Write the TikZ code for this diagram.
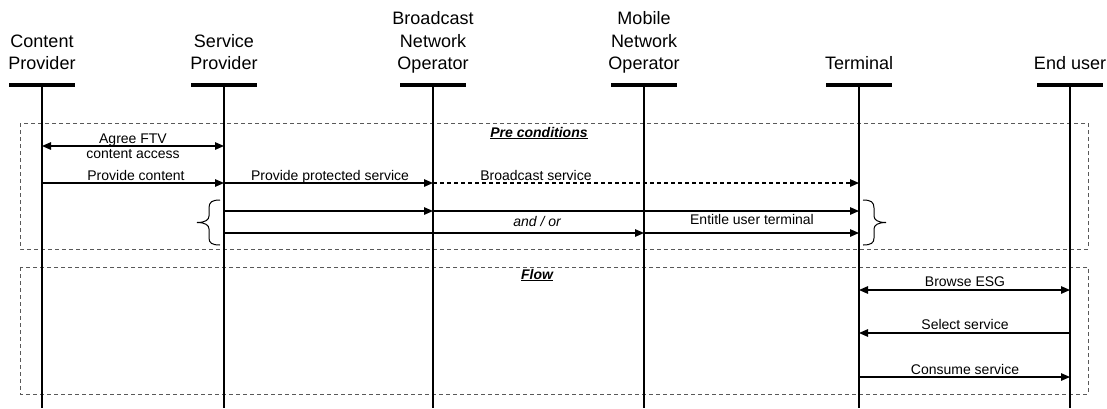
\documentclass[tikz,border=0pt]{standalone}
\usepackage{fontspec}
\setmainfont{Liberation Sans}
\usetikzlibrary{arrows.meta}
\begin{document}
\begin{tikzpicture}[x=1pt,y=-1pt,
  lifeline/.style={line width=1.3pt},
  headbar/.style={line width=4pt},
  hdr/.style={font=\fontsize{18}{22.5}\selectfont, align=center, anchor=south, inner sep=0pt, text depth=0pt},
  msg/.style={line width=1.3pt, -{Triangle[length=9pt,width=7.5pt]}},
  dmsg/.style={line width=1.3pt, {Triangle[length=9pt,width=7.5pt]}-{Triangle[length=9pt,width=7.5pt]}},
  lbl/.style={font=\fontsize{14}{16}\selectfont, inner sep=0pt, anchor=base},
  framebox/.style={draw=black!65, line width=1pt, dash pattern=on 4pt off 3pt},
  ttl/.style={font=\fontsize{14}{16}\selectfont\bfseries\itshape, inner sep=0pt, anchor=base},
  brc/.style={line width=1pt}
]
\useasboundingbox (0,0) rectangle (1107,408);

% frames
\draw[framebox] (20,123) rectangle (1088,249);
\draw[framebox] (20,267) rectangle (1088,394);

% lifelines
\foreach \n/\x in {cp/42, sp/224, bno/433, mno/644, term/859, eu/1070}{
  \coordinate (\n top) at (\x,85);
  \coordinate (\n bot) at (\x,408);
  \draw[headbar] (\x-33,85) -- (\x+33,85);
  \draw[lifeline] (\n top) -- (\n bot);
}

% headers
\node[hdr] (hcp) at (42,70) {Content\\Provider};
\node[hdr] (hsp) at (224,70) {Service\\Provider};
\node[hdr] (hbno) at (433,70) {Broadcast\\Network\\Operator};
\node[hdr] (hmno) at (644,70) {Mobile\\Network\\Operator};
\node[hdr] (hterm) at (859,70) {Terminal};
\node[hdr] (heu) at (1070,70) {End user};

% titles
\node[ttl] (tpre) at (539,137) {\underline{Pre conditions}};
\node[ttl] (tflow) at (537,279) {\underline{Flow}};

% message anchor points
\coordinate (a1) at (42,146);  \coordinate (a2) at (224,146);
\coordinate (p1) at (42,183);  \coordinate (p2) at (224,183);
\coordinate (p3) at (433,183); \coordinate (p4) at (859,183);
\coordinate (e1) at (224,211); \coordinate (e2) at (433,211); \coordinate (e3) at (859,211);
\coordinate (f1) at (224,233); \coordinate (f2) at (644,233); \coordinate (f3) at (859,233);
\coordinate (b1) at (859,290); \coordinate (b2) at (1070,290);
\coordinate (s1) at (859,333); \coordinate (s2) at (1070,333);
\coordinate (c1) at (859,377); \coordinate (c2) at (1070,377);

% pre-condition messages
\draw[dmsg] (a1) -- (a2);
\node[lbl] (lagree1) at (133,143) {Agree FTV};
\node[lbl] (lagree2) at (133,158) {content access};

\draw[msg] (p1) -- (p2);
\node[lbl] (lprov) at (136,180.5) {Provide content};
\draw[msg] (p2) -- (p3);
\node[lbl] (lprot) at (330,180.5) {Provide protected service};
\draw[msg, dash pattern=on 4pt off 3pt] (p3) -- (p4);
\node[lbl] (lbc) at (536,180) {Broadcast service};

\draw[msg] (e1) -- (e2);
\draw[msg] (e2) -- (e3);
\draw[msg] (f1) -- (f2);
\draw[msg] (f2) -- (f3);
\node[lbl, font=\fontsize{14}{16}\selectfont\itshape] (landor) at (537,226) {and / or};
\node[lbl] (lent) at (752,224.5) {Entitle user terminal};

% braces
\draw[brc] (220,200) .. controls (212,200) and (209,202) .. (209,208) -- (209,216)
  .. controls (209,220) and (205,222.5) .. (197,222.5)
  .. controls (205,222.5) and (209,225) .. (209,229) -- (209,238)
  .. controls (209,243) and (212,245) .. (220,245);
\draw[brc] (863,200) .. controls (871,200) and (874,202) .. (874,208) -- (874,216)
  .. controls (874,220) and (878,222.5) .. (886,222.5)
  .. controls (878,222.5) and (874,225) .. (874,229) -- (874,238)
  .. controls (874,243) and (871,245) .. (863,245);

% flow messages
\draw[dmsg] (b1) -- (b2);
\node[lbl] (lbrowse) at (965,286) {Browse ESG};
\draw[msg] (s2) -- (s1);
\node[lbl] (lsel) at (965,329) {Select service};
\draw[msg] (c1) -- (c2);
\node[lbl] (lcons) at (965,374) {Consume service};
\end{tikzpicture}
\end{document}
